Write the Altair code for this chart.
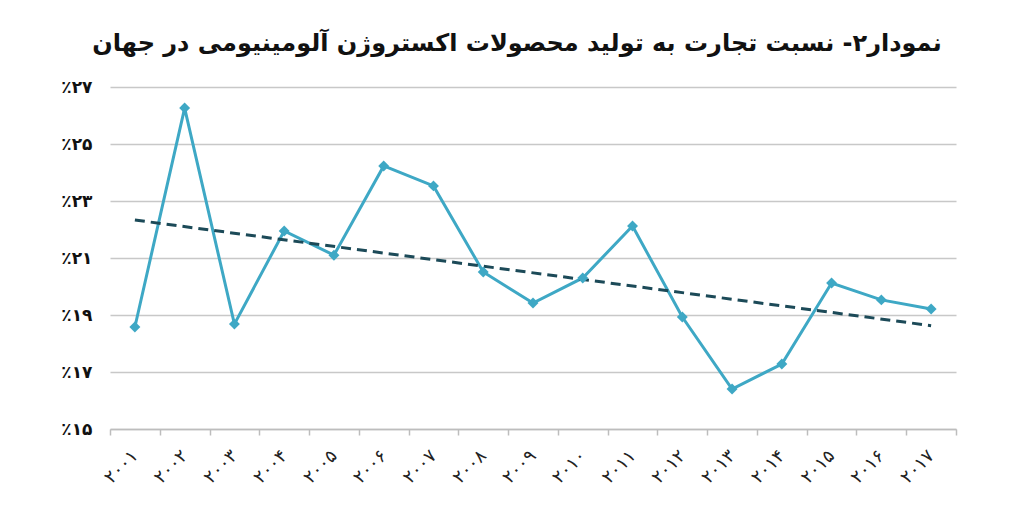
import altair as alt
import pandas as pd

years = list(range(2001, 2018))
values = [18.58, 26.26, 18.68, 21.95, 21.10, 24.23, 23.53, 20.51, 19.42,
          20.30, 22.12, 18.93, 16.40, 17.28, 20.12, 19.53, 19.21]
year_labels = ["۲۰۰۱", "۲۰۰۲", "۲۰۰۳", "۲۰۰۴", "۲۰۰۵", "۲۰۰۶", "۲۰۰۷", "۲۰۰۸", "۲۰۰۹",
               "۲۰۱۰", "۲۰۱۱", "۲۰۱۲", "۲۰۱۳", "۲۰۱۴", "۲۰۱۵", "۲۰۱۶", "۲۰۱۷"]
y_ticks = [15, 17, 19, 21, 23, 25, 27]
persian_digits = ["۰", "۱", "۲", "۳", "۴", "۵", "۶", "۷", "۸", "۹"]
title_text = "نمودار۲- نسبت تجارت به تولید محصولات اکستروژن آلومینیومی در جهان"

df = pd.DataFrame({"year": years, "value": values})

FONT = "DejaVu Sans"
LINE_COLOR = "#3ea8c5"
TREND_COLOR = "#1c4a58"

year_arr = "[" + ",".join("'" + s + "'" for s in year_labels) + "]"
dig_arr = "[" + ",".join("'" + s + "'" for s in persian_digits) + "]"

x_enc = alt.X(
    "year:O",
    title=None,
    scale=alt.Scale(paddingInner=0, paddingOuter=0),
    axis=alt.Axis(
        labelExpr=year_arr + "[datum.value - 2001]",
        labelAngle=-45,
        labelAlign="right",
        labelBaseline="middle",
        labelFont=FONT,
        labelFontSize=18,
        labelColor="#222222",
        labelPadding=18,
        tickBand="extent",
        tickColor="#bdbdbd",
        tickSize=6,
        tickWidth=1.5,
        domainColor="#bdbdbd",
        domainWidth=1.5,
        grid=False,
    ),
)

y_enc = alt.Y(
    "value:Q",
    title=None,
    scale=alt.Scale(domain=[15, 27], nice=False, zero=False),
    axis=alt.Axis(
        values=y_ticks,
        labelExpr="'٪' + " + dig_arr + "[floor(datum.value/10)] + " + dig_arr + "[datum.value % 10]",
        labelFont=FONT,
        labelFontSize=17,
        labelFontWeight="bold",
        labelColor="#111111",
        labelPadding=18,
        domain=False,
        ticks=False,
        grid=True,
        gridColor="#c8c8c8",
        gridWidth=1.5,
    ),
)

base = alt.Chart(df)

line = base.mark_line(color=LINE_COLOR, strokeWidth=3).encode(x=x_enc, y=y_enc)
points = base.mark_point(shape="diamond", filled=True, size=120, color=LINE_COLOR, opacity=1).encode(
    x="year:O", y="value:Q"
)
trend = base.transform_regression("year", "value", method="linear").mark_line(
    color=TREND_COLOR, strokeWidth=3, strokeDash=[10, 6]
).encode(x="year:O", y="value:Q")

chart = (
    alt.layer(line, trend, points)
    .properties(
        width=846,
        height=342,
        autosize=alt.AutoSizeParams(type="none"),
        padding={"left": 102, "top": 79, "right": 40, "bottom": 70},
        title=alt.TitleParams(
            title_text,
            font=FONT,
            fontSize=24,
            fontWeight="bold",
            color="#111111",
            anchor="middle",
            dx=-16,
            offset=22,
        ),
    )
    .configure_view(stroke=None)
)

chart.save("out.html", embed_options={"renderer": "svg", "actions": False})
